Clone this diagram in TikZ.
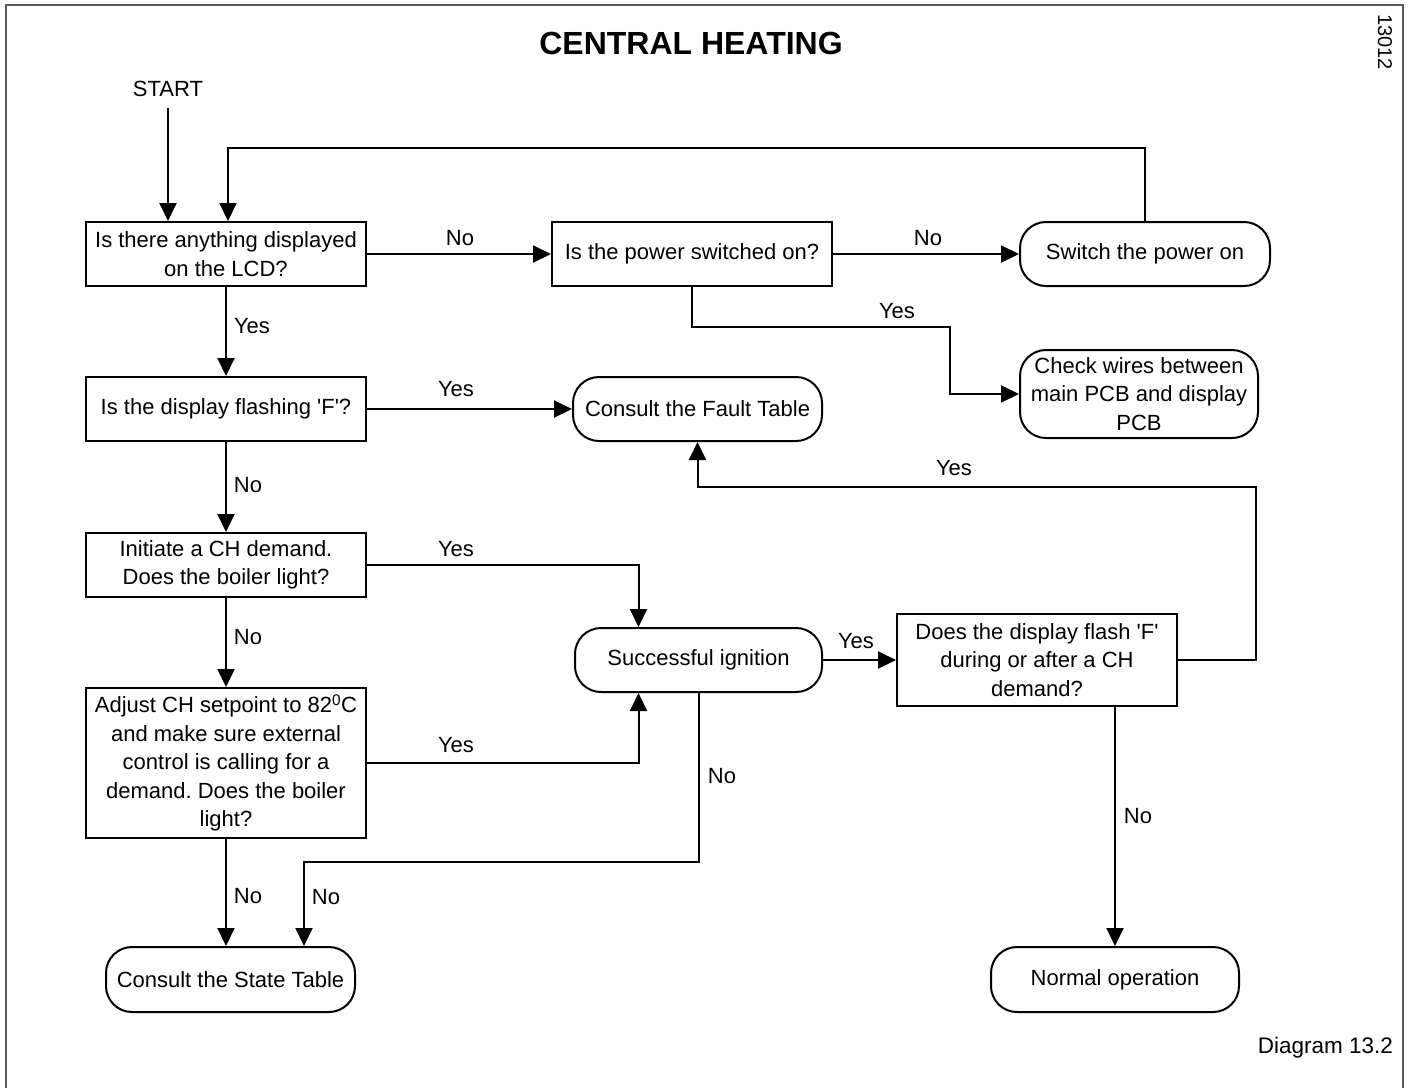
\documentclass[tikz,border=0pt]{standalone}
\usepackage{fontspec}
\setmainfont{Liberation Sans}
\newfontfamily\plainq{Liberation Sans}
\usetikzlibrary{arrows.meta,positioning}
\newcommand{\sq}{{\plainq'}}
\begin{document}
\frenchspacing
\begin{tikzpicture}[x=1pt,y=-1pt,
  line width=2pt,
  txt/.style={font=\fontsize{22}{28.5}\selectfont, align=center, inner sep=0pt},
  sqbox/.style={txt, draw, rectangle, minimum width=280pt, minimum height=64pt},
  rdbox/.style={txt, draw, rectangle, rounded corners=26pt, minimum width=249pt, minimum height=64pt},
  lbl/.style={font=\fontsize{22}{24}\selectfont, inner sep=0pt},
  arr/.style={-{Triangle[length=18pt,width=17pt]}}]
\useasboundingbox (0,0) rectangle (1410,1088);
\draw[line width=2pt, black!65] (6,1088) -- (6,5) -- (1403,5) -- (1403,1088);

\node[font=\fontsize{32}{36}\selectfont\bfseries, inner sep=0pt] (title) at (691,43) {CENTRAL HEATING};
\node[font=\fontsize{20}{22}\selectfont, inner sep=0pt, rotate=-90] (code) at (1385,42) {13012};
\node[font=\fontsize{22.5}{26}\selectfont, inner sep=0pt, anchor=east] (dg) at (1394,1048) {Diagram 13.2};

\node[lbl] (start) at (168,89) {START};

\node[sqbox] (b1) at (226,254) {Is there anything displayed\\on the LCD?};
\node[sqbox] (b2) at (692,254) {Is the power switched on?};
\node[rdbox, minimum width=250pt] (b3) at (1145,254) {Switch the power on};
\node[rdbox, minimum width=238pt, minimum height=88pt] (b4) at (1139,394) {Check wires between\\main PCB and display\\PCB};
\node[sqbox] (b5) at (226,409) {Is the display flashing \sq F\sq ?};
\node[rdbox] (b6) at (697.5,409) {Consult the Fault Table};
\node[sqbox] (b7) at (226,565) {Initiate a CH demand.\\Does the boiler light?};
\node[rdbox, minimum width=247pt] (b8) at (698.5,660) {Successful ignition};
\node[sqbox, minimum height=92pt] (b9) at (1037,660) {Does the display flash \sq F\sq \\during or after a CH\\demand?};
\node[sqbox, minimum height=150pt] (b10) at (226,763) {Adjust CH setpoint to 82\textsuperscript{0}C\\and make sure external\\control is calling for a\\demand. Does the boiler\\light?};
\node[rdbox, minimum height=65pt] (b11) at (230.5,979.5) {Consult the State Table};
\node[rdbox, minimum width=248pt, minimum height=65pt] (b12) at (1115,979.5) {Normal operation};

\coordinate (lp) at (228,148);
\coordinate (c1) at (950,327);
\coordinate (c3) at (304,862);
\coordinate (c4) at (1256,487);

\draw[arr] (start.south) ++(0,10) -- (start.south |- b1.north);
\draw[arr] (b3.north) |- (lp) -- (lp |- b1.north);
\draw[arr] (b1.east) -- (b2.west);
\draw[arr] (b2.east) -- (b3.west);
\draw[arr] (b2.south) |- (c1) |- (b4.west);
\draw[arr] (b1.south) -- (b5.north);
\draw[arr] (b5.east) -- (b6.west);
\draw[arr] (b5.south) -- (b7.north);
\draw[arr] (b7.east) -| ([xshift=-60pt]b8.north);
\draw[arr] (b7.south) -- (b10.north);
\draw[arr] (b10.east) -| ([xshift=-60pt]b8.south);
\draw[arr] (b8.south) |- (c3) -- (c3 |- b11.north);
\draw[arr] (b10.south) -- (b10.south |- b11.north);
\draw[arr] (b8.east) -- (b9.west);
\draw[arr] (b9.east) -| (c4) -| (b6.south);
\draw[arr] (b12.north |- b9.south) -- (b12.north);

\node[lbl] (l1) at (460,238) {No};
\node[lbl] (l2) at (928,238) {No};
\node[lbl] (l3) at (897,311) {Yes};
\node[lbl] (l4) at (252,326) {Yes};
\node[lbl] (l5) at (456,389) {Yes};
\node[lbl] (l6) at (248,485) {No};
\node[lbl] (l7) at (456,549) {Yes};
\node[lbl] (l8) at (248,637) {No};
\node[lbl] (l9) at (456,745) {Yes};
\node[lbl] (l10) at (722,776) {No};
\node[lbl] (l11) at (326,897) {No};
\node[lbl] (l12) at (248,896) {No};
\node[lbl] (l13) at (856,641) {Yes};
\node[lbl] (l14) at (954,468) {Yes};
\node[lbl] (l15) at (1138,816) {No};
\end{tikzpicture}
\end{document}
